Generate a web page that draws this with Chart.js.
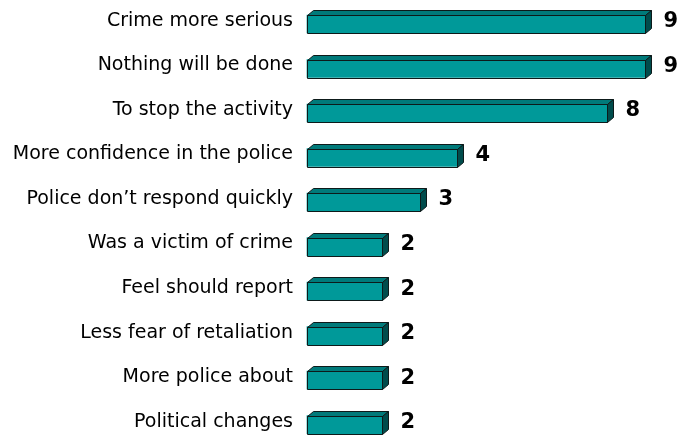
<!DOCTYPE html>
<html>
<head>
<meta charset="utf-8">
<title>Reasons for reporting</title>
<script src="https://cdn.jsdelivr.net/npm/chart.js@4/dist/chart.umd.min.js"></script>
<style>
	html, body { margin: 0; padding: 0; background: #ffffff; }
	#chartBox { width: 684px; height: 442px; position: relative; }
</style>
</head>
<body>
<div id="chartBox"><canvas id="reasonChart"></canvas></div>
<script>
var reasonLabels = [
	'Crime more serious',
	'Nothing will be done',
	'To stop the activity',
	'More confidence in the police',
	'Police don\u2019t respond quickly',
	'Was a victim of crime',
	'Feel should report',
	'Less fear of retaliation',
	'More police about',
	'Political changes'
];
var reasonCounts = [9, 9, 8, 4, 3, 2, 2, 2, 2, 2];

var frontColour = '#009999';
var topColour = '#007a7a';
var sideColour = '#004c4c';
var edgeColour = '#0d1a1a';
var depthX = 6;
var depthY = 5;

// draws the top and right faces on each bar, then the count beside it
var boxBars = {
	id: 'boxBars',
	afterDatasetsDraw: function(chart) {
		var ctx = chart.ctx;
		var meta = chart.getDatasetMeta(0);
		ctx.save();
		ctx.lineWidth = 1;
		ctx.strokeStyle = edgeColour;
		ctx.lineJoin = 'round';
		meta.data.forEach(function(bar, i) {
			var x0 = Math.round(bar.base) + 0.5;
			var x1 = Math.round(bar.x) + 0.5;
			var top = Math.round(bar.y - bar.height / 2) + 0.5;
			var bottom = Math.round(bar.y + bar.height / 2) + 0.5;

			// top face
			ctx.beginPath();
			ctx.moveTo(x0, top);
			ctx.lineTo(x0 + depthX, top - depthY);
			ctx.lineTo(x1 + depthX, top - depthY);
			ctx.lineTo(x1, top);
			ctx.closePath();
			ctx.fillStyle = topColour;
			ctx.fill();
			ctx.stroke();

			// right face
			ctx.beginPath();
			ctx.moveTo(x1, top);
			ctx.lineTo(x1 + depthX, top - depthY);
			ctx.lineTo(x1 + depthX, bottom - depthY);
			ctx.lineTo(x1, bottom);
			ctx.closePath();
			ctx.fillStyle = sideColour;
			ctx.fill();
			ctx.stroke();

			// front outline
			ctx.strokeRect(x0, top, x1 - x0, bottom - top);

			ctx.fillStyle = '#000000';
			ctx.font = 'bold 21px "DejaVu Sans", Verdana, sans-serif';
			ctx.textAlign = 'left';
			ctx.textBaseline = 'middle';
			ctx.fillText(reasonCounts[i], x1 + depthX + 12, bar.y - 2);
		});
		ctx.restore();
	}
};

var ctx = document.getElementById('reasonChart').getContext('2d');
var reasonChart = new Chart(ctx, {
	type: 'bar',
	data: {
		labels: reasonLabels,
		datasets: [{
			data: reasonCounts,
			backgroundColor: frontColour,
			borderWidth: 0,
			barThickness: 18,
			clip: false
		}]
	},
	options: {
		indexAxis: 'y',
		responsive: true,
		maintainAspectRatio: false,
		animation: false,
		layout: {
			padding: { top: 24, right: 39, bottom: 14, left: 0 }
		},
		plugins: {
			legend: { display: false },
			tooltip: { enabled: false }
		},
		scales: {
			x: {
				display: false,
				min: 0,
				max: 9
			},
			y: {
				offset: false,
				grid: { display: false },
				border: { display: false },
				ticks: {
					color: '#000000',
					padding: 6,
					labelOffset: -3,
					font: { family: '"DejaVu Sans", Verdana, sans-serif', size: 19 }
				},
				afterFit: function(axis) {
					axis.width = 307;
				}
			}
		}
	},
	plugins: [boxBars]
});
</script>
</body>
</html>
